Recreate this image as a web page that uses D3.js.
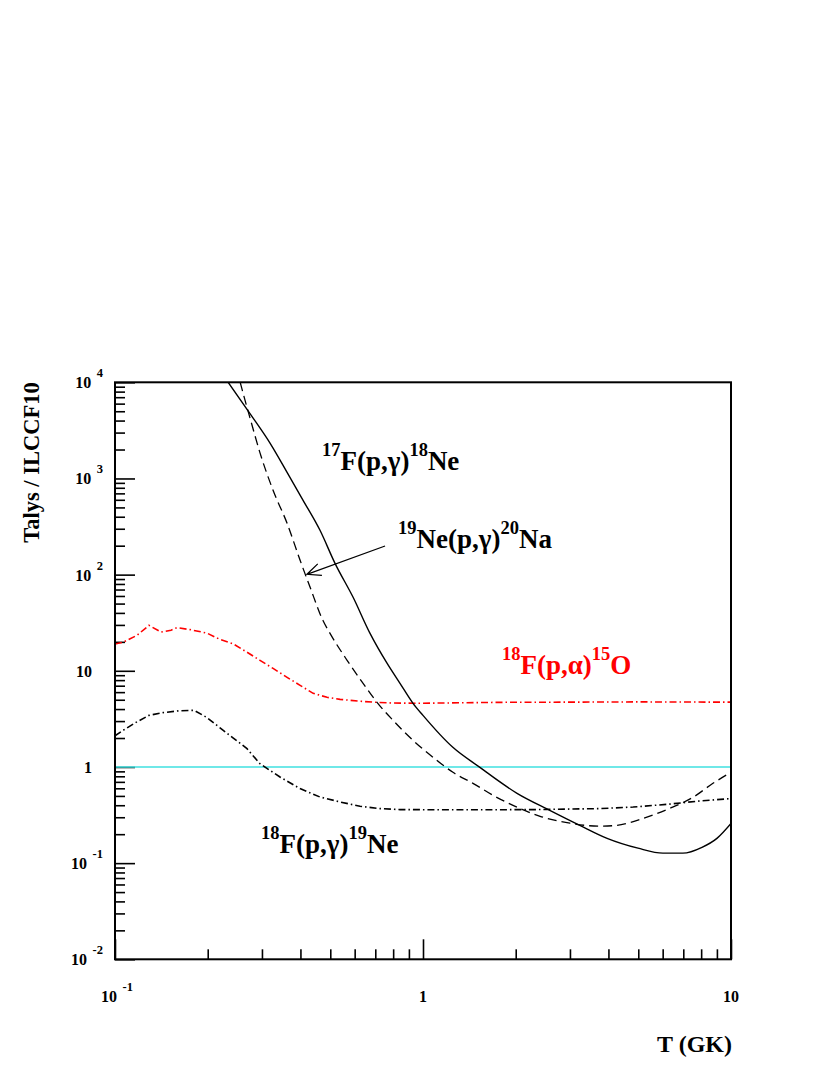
<!DOCTYPE html>
<html>
<head>
<meta charset="utf-8">
<script src="https://cdn.jsdelivr.net/npm/d3@7"></script>
<style>
  body { margin: 0; background: white; }
  text { font-family: "Liberation Serif", "Times New Roman", serif; font-weight: bold; }
</style>
</head>
<body>
<div id="chart"></div>
<script>
// Temperature grid (GK) and Talys / ILCCF10 ratios
const t17F = [0.233, 0.274, 0.319, 0.362, 0.408, 0.463, 0.518, 0.593, 0.673, 0.764, 0.842, 0.928, 1.0, 1.25, 1.53, 2.02, 2.58, 3.23, 3.96, 4.99, 6.01, 6.98, 8.05, 9.0, 10.0];
const r17F = [10000, 4755, 2321, 1159, 593, 289, 131, 58.1, 24.5, 12.0, 7.41, 4.59, 3.44, 1.60, 0.99, 0.532, 0.354, 0.247, 0.181, 0.143, 0.127, 0.127, 0.146, 0.181, 0.259];

const t19Ne = [0.255, 0.264, 0.274, 0.296, 0.326, 0.362, 0.399, 0.430, 0.473, 0.499, 0.567, 0.639, 0.709, 0.799, 0.928, 1.078, 1.251, 1.453, 1.688, 1.96, 2.40, 3.0, 3.76, 4.25, 5.18, 6.34, 7.53, 8.74, 10.0];
const r19Ne = [10000, 6600, 4325, 1824, 753, 342, 141, 73.8, 33.5, 24.5, 12.85, 7.41, 4.70, 3.06, 1.893, 1.26, 0.880, 0.676, 0.507, 0.399, 0.307, 0.260, 0.242, 0.247, 0.292, 0.372, 0.484, 0.676, 0.880];

const t18Fpa = [0.1, 0.1062, 0.1179, 0.1289, 0.1411, 0.152, 0.1589, 0.1751, 0.1985, 0.2193, 0.2416, 0.2683, 0.2956, 0.326, 0.362, 0.399, 0.44, 0.488, 0.538, 0.624, 0.709, 0.799, 1.0, 1.78, 2.94, 5.0, 10.0];
const r18Fpa = [19.0, 19.8, 23.4, 29.7, 25.3, 26.4, 28.1, 26.8, 24.7, 21.2, 19.1, 15.6, 12.85, 10.6, 8.55, 7.06, 5.83, 5.30, 5.05, 4.82, 4.70, 4.62, 4.60, 4.70, 4.72, 4.75, 4.72];

const t18Fpg = [0.1, 0.1062, 0.117, 0.1289, 0.1432, 0.1614, 0.1805, 0.1985, 0.2193, 0.2416, 0.2683, 0.2956, 0.3433, 0.3986, 0.463, 0.5375, 0.6244, 0.725, 0.842, 1.349, 2.275, 3.755, 4.81, 6.20, 7.93, 10.0];
const r18Fpg = [2.11, 2.40, 2.91, 3.44, 3.67, 3.84, 3.88, 3.28, 2.55, 2.01, 1.55, 1.08, 0.786, 0.596, 0.487, 0.433, 0.390, 0.369, 0.360, 0.359, 0.360, 0.369, 0.383, 0.409, 0.443, 0.469];

const tUnity = [0.1, 10];
const rUnity = [1, 1];

// Axis ticks and labels ("^" marks the exponent)
const xMajor = [0.1, 1, 10];
const xLabels = ["10^-1", "1", "10"];
const yMajor = [1e-2, 1e-1, 1, 10, 1e2, 1e3, 1e4];
const yLabels = ["10^-2", "10^-1", "1", "10", "10^2", "10^3", "10^4"];

// Reaction labels: [text, isSuperscript] pieces, plus where they sit (T, ratio)
const reactionNames = [
    [["17", true], ["F(p,γ)", false], ["18", true], ["Ne", false]],
    [["19", true], ["Ne(p,γ)", false], ["20", true], ["Na", false]],
    [["18", true], ["F(p,α)", false], ["15", true], ["O", false]],
    [["18", true], ["F(p,γ)", false], ["19", true], ["Ne", false]]
];
const reactionAt = [[0.47, 1216], [0.83, 188], [1.805, 9.2], [0.298, 0.1265]];
const reactionColors = ["black", "black", "red", "black"];
const arrowFrom = [0.753, 198.5];
const arrowTo = [0.42, 100.8];

const W = 830, H = 1075;
const margin = {top: 382.3, right: 99, bottom: 115.7, left: 115};
const width = W - margin.left - margin.right;
const height = H - margin.top - margin.bottom;

const svg = d3.select("#chart")
    .append("svg")
    .attr("width", W)
    .attr("height", H);

svg.append("rect").attr("width", W).attr("height", H).attr("fill", "white");

const g = svg.append("g")
    .attr("transform", `translate(${margin.left},${margin.top})`);

const x = d3.scaleLog().domain([0.1, 10]).range([0, width]);
const y = d3.scaleLog().domain([1e-2, 1e4]).range([height, 0]);

// minor tick positions, 2..9 in each decade
const minorTicks = (lo, hi) => {
    const out = [];
    for (let p = Math.log10(lo); p < Math.log10(hi); p++) {
        for (let k = 2; k <= 9; k++) out.push(k * Math.pow(10, p));
    }
    return out;
};

g.append("defs").append("clipPath").attr("id", "plotClip")
    .append("rect").attr("width", width).attr("height", height);

// ticks (inward, ROOT style)
const tickStyle = sel => {
    sel.select(".domain").remove();
    sel.selectAll("line").attr("stroke", "black").attr("stroke-width", 1.6);
    sel.selectAll("text").remove();
};
g.append("g").attr("transform", `translate(0,${height})`)
    .call(d3.axisBottom(x).tickValues(xMajor).tickSize(-20)).call(tickStyle);
g.append("g").attr("transform", `translate(0,${height})`)
    .call(d3.axisBottom(x).tickValues(minorTicks(0.1, 10)).tickSize(-10)).call(tickStyle);
g.append("g")
    .call(d3.axisLeft(y).tickValues(yMajor).tickSize(-20)).call(tickStyle);
g.append("g")
    .call(d3.axisLeft(y).tickValues(minorTicks(1e-2, 1e4)).tickSize(-10)).call(tickStyle);

// labels with exponents
const writeLabel = (sel, s, expSize) => {
    const [base, exp] = s.split("^");
    sel.append("tspan").text(base);
    if (exp !== undefined) {
        sel.append("tspan").attr("dx", 5.5).attr("dy", -11)
            .style("font-size", expSize + "px").text(exp);
    }
};
yMajor.forEach((v, i) => {
    const hasExp = yLabels[i].includes("^");
    const t = g.append("text")
        .attr("x", hasExp ? -12 : -23)
        .attr("y", y(v) + 6)
        .attr("text-anchor", "end")
        .style("font-size", "16px");
    writeLabel(t, yLabels[i], 12.5);
});
xMajor.forEach((v, i) => {
    const t = g.append("text")
        .attr("x", x(v) + (xLabels[i].includes("^") ? 2 : 0))
        .attr("y", height + 43)
        .attr("text-anchor", "middle")
        .style("font-size", "16px");
    writeLabel(t, xLabels[i], 12.5);
});

// axis titles
g.append("text")
    .attr("x", width + 1)
    .attr("y", height + 93)
    .attr("text-anchor", "end")
    .style("font-size", "24px")
    .text("T (GK)");
g.append("text")
    .attr("transform", `translate(${38.5 - margin.left},0) rotate(-90)`)
    .attr("text-anchor", "end")
    .style("font-size", "22.5px")
    .text("Talys / ILCCF10");

// curves
const lineOf = curve => d3.line()
    .x(d => x(d[0]))
    .y(d => y(d[1]))
    .curve(curve);
const curves = g.append("g").attr("clip-path", "url(#plotClip)");

const series = [
    {t: tUnity, r: rUnity, color: "#3fe0e0", dash: null, w: 1.6, curve: d3.curveLinear},
    {t: t18Fpa, r: r18Fpa, color: "red", dash: "7,3,1.5,3", w: 1.6, curve: d3.curveLinear},
    {t: t18Fpg, r: r18Fpg, color: "black", dash: "7,3,1.5,3", w: 1.6, curve: d3.curveLinear},
    {t: t19Ne, r: r19Ne, color: "black", dash: "9,5", w: 1.3, curve: d3.curveMonotoneX},
    {t: t17F, r: r17F, color: "black", dash: null, w: 1.4, curve: d3.curveMonotoneX}
];
series.forEach(s => {
    curves.append("path")
        .datum(s.t.map((t, i) => [t, s.r[i]]))
        .attr("d", lineOf(s.curve))
        .attr("fill", "none")
        .attr("stroke", s.color)
        .attr("stroke-width", s.w)
        .attr("stroke-dasharray", s.dash);
});

// frame
g.append("rect")
    .attr("width", width)
    .attr("height", height)
    .attr("fill", "none")
    .attr("stroke", "black")
    .attr("stroke-width", 2);

// reaction labels
reactionNames.forEach((parts, i) => {
    const t = g.append("text")
        .attr("x", x(reactionAt[i][0]))
        .attr("y", y(reactionAt[i][1]))
        .attr("fill", reactionColors[i])
        .style("font-size", "27px");
    let up = false;
    parts.forEach(([s, sup]) => {
        const sp = t.append("tspan").text(s);
        if (sup && !up) { sp.attr("dy", -14).style("font-size", "18.5px"); up = true; }
        else if (!sup && up) { sp.attr("dy", 14); up = false; }
    });
});

// arrow to the dashed curve
const ax0 = x(arrowFrom[0]), ay0 = y(arrowFrom[1]);
const ax1 = x(arrowTo[0]), ay1 = y(arrowTo[1]);
const ang = Math.atan2(ay0 - ay1, ax0 - ax1);
const headLen = 15, headAng = 0.42;
g.append("path")
    .attr("d", `M${ax0},${ay0}L${ax1},${ay1}` +
        `M${ax1 + headLen * Math.cos(ang - headAng)},${ay1 + headLen * Math.sin(ang - headAng)}` +
        `L${ax1},${ay1}` +
        `L${ax1 + headLen * Math.cos(ang + headAng)},${ay1 + headLen * Math.sin(ang + headAng)}`)
    .attr("fill", "none")
    .attr("stroke", "black")
    .attr("stroke-width", 1.3);
</script>
</body>
</html>
